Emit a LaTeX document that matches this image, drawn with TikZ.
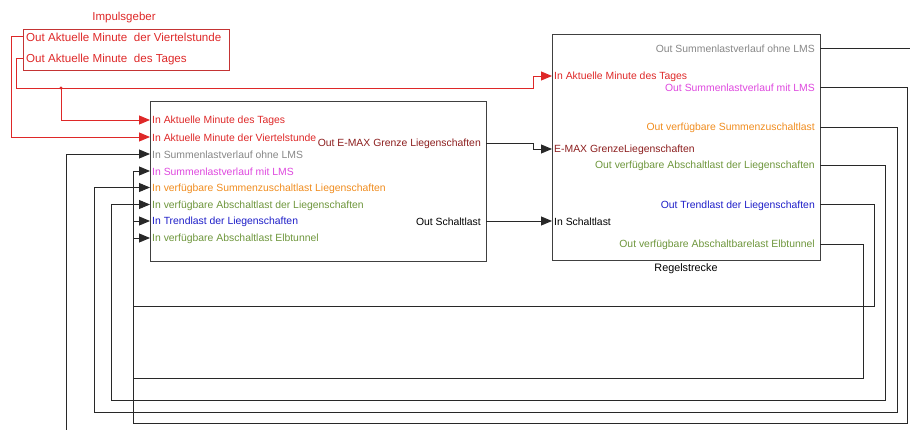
\documentclass[tikz,border=0pt]{standalone}
\usepackage{fontspec}
\setmainfont{Liberation Sans}
\usetikzlibrary{arrows.meta}

\definecolor{sigred}{RGB}{222,40,40}
\definecolor{framered}{RGB}{196,52,52}
\definecolor{sumgray}{RGB}{135,135,135}
\definecolor{summag}{RGB}{222,72,222}
\definecolor{suporange}{RGB}{240,140,30}
\definecolor{offgreen}{RGB}{110,150,60}
\definecolor{trendblue}{RGB}{30,30,200}
\definecolor{emaxred}{RGB}{140,30,30}
\definecolor{boxgray}{RGB}{64,64,64}
\definecolor{wirecol}{RGB}{40,40,40}

\begin{document}
\begin{tikzpicture}[x=1pt,y=-1pt,
  block/.style={draw=boxgray, line width=1.2pt, inner sep=0pt, anchor=north west},
  portfont/.style={font=\fontsize{10.4}{12}\selectfont},
  inlab/.style={portfont, anchor=west, inner sep=0pt, yshift=-1pt},
  outlab/.style={portfont, anchor=east, inner sep=0pt, yshift=-1pt},
  implab/.style={font=\fontsize{11.6}{13}\selectfont, text=sigred, anchor=west, inner sep=0pt, yshift=-1pt},
  wire/.style={draw=wirecol, line width=0.9pt},
  feed/.style={wire, -{Triangle[length=11pt,width=9pt]}},
  redwire/.style={draw=sigred, line width=0.9pt},
  redfeed/.style={redwire, -{Triangle[length=11pt,width=9pt]}},
]
\useasboundingbox (0,0) rectangle (910,430);

% ---------- blocks ----------
\node[block, draw=framered, minimum width=206pt, minimum height=41pt] (imp) at (23,29) {};
\node[font=\fontsize{11.5}{13}\selectfont, text=sigred] (impname) at (124,18) {Impulsgeber};

\node[block, minimum width=336pt, minimum height=160pt] (mid) at (150,101) {};

\node[block, minimum width=268pt, minimum height=226pt] (reg) at (552,34) {};
\node[font=\fontsize{10.8}{12}\selectfont] (regname) at (686,269) {Regelstrecke};

% ---------- ports ----------
\coordinate (io1) at (23,36.5);
\coordinate (io2) at (23,58.5);

\coordinate (mi1) at (150,120);
\coordinate (mi2) at (150,137);
\coordinate (mi3) at (150,154);
\coordinate (mi4) at (150,171);
\coordinate (mi5) at (150,187.5);
\coordinate (mi6) at (150,204.5);
\coordinate (mi7) at (150,221);
\coordinate (mi8) at (150,238);
\coordinate (mo1) at (486,143);
\coordinate (mo2) at (486,221);

\coordinate (ri1) at (552,76);
\coordinate (ri2) at (552,149);
\coordinate (ri3) at (552,221);
\coordinate (ro1) at (820,48);
\coordinate (ro2) at (820,87);
\coordinate (ro3) at (820,127);
\coordinate (ro4) at (820,165);
\coordinate (ro5) at (820,204.5);
\coordinate (ro6) at (820,244);

\coordinate (tap) at (61,88);
\coordinate (exitR) at (910,48);
\coordinate (exitB) at (66,430);

% ---------- port labels ----------
\node[implab] (lio1) at ([xshift=3pt]io1) {Out Aktuelle Minute\ \ der Viertelstunde};
\node[implab] (lio2) at ([xshift=3pt]io2) {Out Aktuelle Minute\ \ des Tages};

\node[inlab, text=sigred]     (lmi1) at ([xshift=2pt]mi1) {In Aktuelle Minute des Tages};
\node[inlab, text=sigred]     (lmi2) at ([xshift=2pt]mi2) {In Aktuelle Minute der Viertelstunde};
\node[inlab, text=sumgray]    (lmi3) at ([xshift=2pt]mi3) {In Summenlastverlauf ohne LMS};
\node[inlab, text=summag]     (lmi4) at ([xshift=2pt]mi4) {In Summenlastverlauf mit LMS};
\node[inlab, text=suporange]  (lmi5) at ([xshift=2pt]mi5) {In verfügbare Summenzuschaltlast Liegenschaften};
\node[inlab, text=offgreen]   (lmi6) at ([xshift=2pt]mi6) {In verfügbare Abschaltlast der Liegenschaften};
\node[inlab, text=trendblue]  (lmi7) at ([xshift=2pt]mi7) {In Trendlast der Liegenschaften};
\node[inlab, text=offgreen]   (lmi8) at ([xshift=2pt]mi8) {In verfügbare Abschaltlast Elbtunnel};
\node[outlab, text=emaxred]   (lmo1) at ([xshift=-5pt]mo1) {Out E-MAX Grenze Liegenschaften};
\node[outlab, text=black]     (lmo2) at ([xshift=-5pt]mo2) {Out Schaltlast};

\node[inlab, text=sigred]     (lri1) at ([xshift=2pt]ri1) {In Aktuelle Minute des Tages};
\node[inlab, text=emaxred]    (lri2) at ([xshift=2pt]ri2) {E-MAX GrenzeLiegenschaften};
\node[inlab, text=black]      (lri3) at ([xshift=2pt]ri3) {In Schaltlast};
\node[outlab, text=sumgray]   (lro1) at ([xshift=-5pt]ro1) {Out Summenlastverlauf ohne LMS};
\node[outlab, text=summag]    (lro2) at ([xshift=-5pt]ro2) {Out Summenlastverlauf mit LMS};
\node[outlab, text=suporange] (lro3) at ([xshift=-5pt]ro3) {Out verfügbare Summenzuschaltlast};
\node[outlab, text=offgreen]  (lro4) at ([xshift=-5pt]ro4) {Out verfügbare Abschaltlast der Liegenschaften};
\node[outlab, text=trendblue] (lro5) at ([xshift=-5pt]ro5) {Out Trendlast der Liegenschaften};
\node[outlab, text=offgreen]  (lro6) at ([xshift=-5pt]ro6) {Out verfügbare Abschaltbarelast Elbtunnel};

% ---------- signal lines from the pulse generator ----------
\draw[redfeed] (io1) -- (11,36.5) |- (mi2);
\draw[redfeed] (io2) -- (16.5,58.5) |- (533,88) |- (ri1);
\draw[redfeed] (tap) |- (mi1);
\fill[sigred] (tap) circle (1.6pt);

% ---------- controller to plant ----------
\draw[feed] (mo1) -- (533,143) |- (ri2);
\draw[feed] (mo2) -- (ri3);

% ---------- feedback lines ----------
\draw[wire] (ro1) -- (exitR);
\draw[feed] (exitB) |- (mi3);
\draw[feed] (ro2) -| (907,423) -| (133,171) -- (mi4);
\draw[feed] (ro3) -| (897,412) -| (94,187.5) -- (mi5);
\draw[feed] (ro4) -| (885,400.5) -| (111,204.5) -- (mi6);
\draw[feed] (ro5) -| (874,306) -| (133,221) -- (mi7);
\draw[feed] (ro6) -| (863,378.5) -| (133,238) -- (mi8);

\end{tikzpicture}
\end{document}
